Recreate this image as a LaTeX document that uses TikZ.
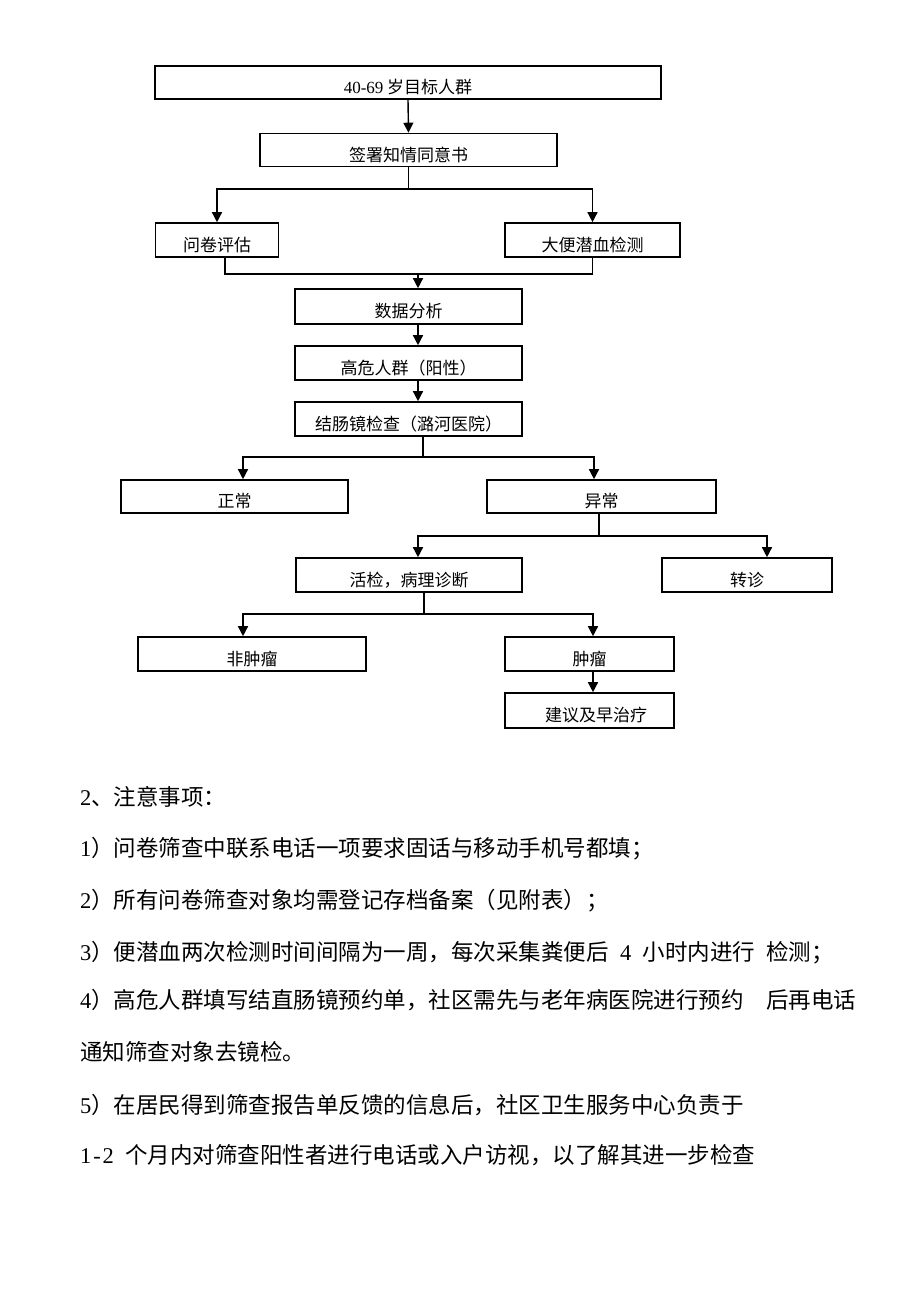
\documentclass[tikz,border=0pt]{standalone}
\usepackage{fontspec}
\newfontfamily\cjk{Noto Sans CJK SC}
\newfontfamily\ser{Liberation Serif}
\usetikzlibrary{arrows.meta}
\newcommand\hw[1]{\makebox[0.5em][c]{\ser #1}}
\tikzset{
  box/.style={draw=black, line width=1.6pt, inner sep=0pt, text height=22pt, text depth=0pt,
    font=\cjk\fontsize{17}{20}\selectfont},
  ln/.style={draw=black, line width=1.4pt},
  arr/.style={ln, -{Triangle[width=10pt,length=10pt]}},
  note/.style={anchor=base west, inner sep=0pt, font=\cjk\fontsize{22.5}{27}\selectfont}
}
\begin{document}
\begin{tikzpicture}[x=1pt,y=-1pt]
\useasboundingbox (0,0) rectangle (920,1301);
% boxes
\node[box, minimum width=506pt, minimum height=33pt] (b1) at (408,82.5) {{\ser 40-69} 岁目标人群};
\node[box, minimum width=297pt, minimum height=33pt] (b2) at (408.5,150) {签署知情同意书};
\node[box, minimum width=123pt, minimum height=34pt] (q) at (217,240) {问卷评估};
\node[box, minimum width=175pt, minimum height=34pt] (d) at (592.5,240) {大便潜血检测};
\node[box, minimum width=227pt, minimum height=35pt] (da) at (408.5,306.5) {数据分析};
\node[box, minimum width=227pt, minimum height=34pt] (hr) at (408.5,363) {高危人群（阳性）};
\node[box, minimum width=227pt, minimum height=34pt] (co) at (408.5,419) {结肠镜检查（潞河医院）};
\node[box, minimum width=227pt, minimum height=33pt] (zc) at (234.5,496.5) {正常};
\node[box, minimum width=229pt, minimum height=33pt] (yc) at (601.5,496.5) {异常};
\node[box, minimum width=226pt, minimum height=34pt] (hj) at (409,575) {活检，病理诊断};
\node[box, minimum width=170pt, minimum height=34pt] (zz) at (747,575) {转诊};
\node[box, minimum width=228pt, minimum height=34pt] (fz) at (252,654) {非肿瘤};
\node[box, minimum width=169pt, minimum height=34pt] (zl) at (589.5,654) {肿瘤};
\node[box, minimum width=169pt, minimum height=35pt] (jy) at (589.5,710.5) {\hspace*{13pt}建议及早治疗};
% junction coordinates
\coordinate (s1) at (408.5,189);
\coordinate (j1) at (418,274);
\coordinate (s2) at (423,457);
\coordinate (s3) at (599,536);
\coordinate (s4) at (424,614);
% connectors
\draw[arr] (b1.south) -- (b2.north);
\draw[ln] (b2.south) -- (s1);
\draw[arr] (s1) -| (q.north);
\draw[arr] (s1) -| (d.north);
\draw[ln] ([xshift=8pt]q.south) |- (d.south |- j1) -- (d.south);
\draw[arr] (j1) -- (da.north -| j1);
\draw[arr] (da.south -| j1) -- (hr.north -| j1);
\draw[arr] (hr.south -| j1) -- (co.north -| j1);
\draw[ln] (co.south -| s2) -- (s2);
\draw[arr] (s2) -| ([xshift=8.5pt]zc.north);
\draw[arr] (s2) -| ([xshift=-7.5pt]yc.north);
\draw[ln] (yc.south -| s3) -- (s3);
\draw[arr] (s3) -| ([xshift=9pt]hj.north);
\draw[arr] (s3) -| ([xshift=20pt]zz.north);
\draw[ln] (hj.south -| s4) -- (s4);
\draw[arr] (s4) -| ([xshift=-9pt]fz.north);
\draw[arr] (s4) -| ([xshift=3.5pt]zl.north);
\draw[arr] ([xshift=3.5pt]zl.south) -- ([xshift=3.5pt]jy.north);
% notes
\node[note] (n0) at (80,805.5) {\hw{2}、注意事项：};
\node[note] (n1) at (80,856.5) {\hw{1}）问卷筛查中联系电话一项要求固话与移动手机号都填；};
\node[note] (n2) at (80,908.5) {\hw{2}）所有问卷筛查对象均需登记存档备案（见附表）；};
\node[note] (n3) at (80,960.5) {\hw{3}）便潜血两次检测时间间隔为一周，每次采集粪便后\hw{}\hw{4}\hw{}小时内进行\hw{}检测；};
\node[note] (n4) at (80,1008.5) {\hw{4}）高危人群填写结直肠镜预约单，社区需先与老年病医院进行预约\hw{}\hw{}后再电话};
\node[note] (n4b) at (80,1060.5) {通知筛查对象去镜检。};
\node[note] (n5) at (80,1113.5) {\hw{5}）在居民得到筛查报告单反馈的信息后，社区卫生服务中心负责于};
\node[note] (n6) at (80,1163.5) {\hw{1}\hw{-}\hw{2}\hw{}个月内对筛查阳性者进行电话或入户访视，以了解其进一步检查};
\end{tikzpicture}
\end{document}
